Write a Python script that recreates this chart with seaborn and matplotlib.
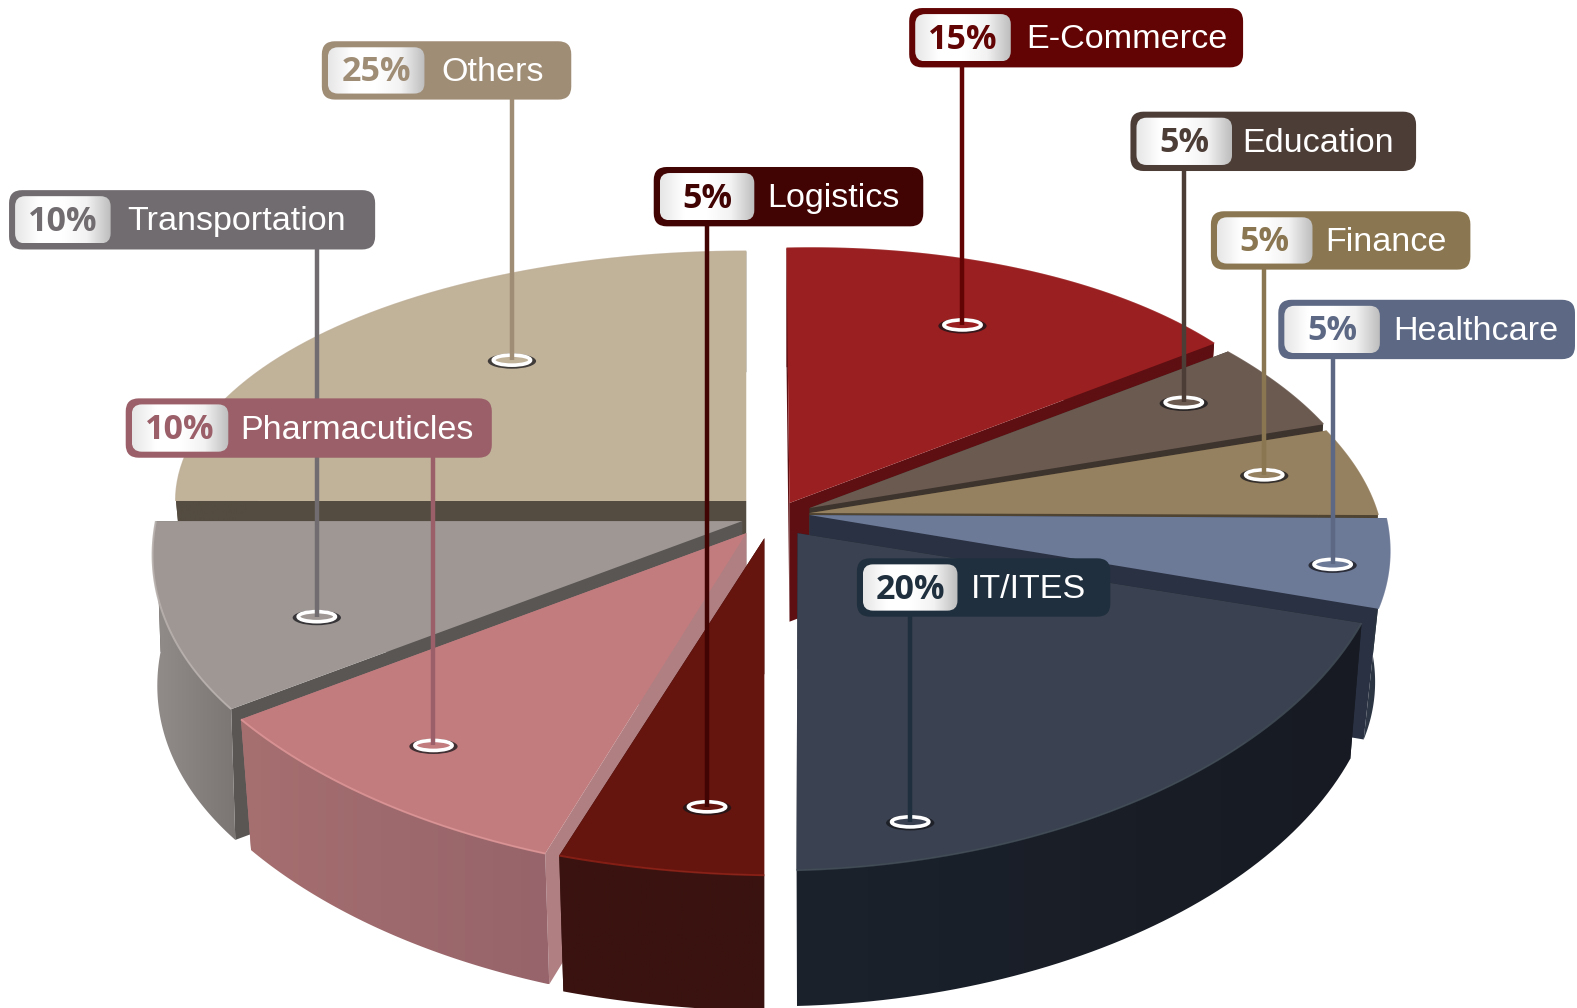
import numpy as np
import matplotlib
matplotlib.use("Agg")
import matplotlib.pyplot as plt
import seaborn as sns
from matplotlib.colors import LinearSegmentedColormap
from matplotlib.patches import Ellipse, FancyBboxPatch
from matplotlib.transforms import Affine2D

# Data
categories = ["E-Commerce", "Education", "Finance", "Healthcare", "IT/ITES",
              "Logistics", "Pharmacuticles", "Transportation", "Others"]
shares = [15, 5, 5, 5, 20, 5, 10, 10, 25]

# Colours
top_colors = ["#9a1f20", "#6b5a50", "#95805f", "#6c7997", "#3a4150",
              "#65140e", "#c27c7e", "#9e9794", "#c1b29a"]
cut_colors = ["#5e0f12", "#3e342e", "#4f4432", "#2a3142", "#1a2029",
              "#3a1310", "#b07f82", "#5a5654", "#544c40"]
rim_left = ["#5e0f12", "#3e342e", "#4f4432", "#2f3947", "#1b222c",
            "#3a1310", "#a66f70", "#928d8b", "#544c40"]
rim_right = ["#5e0f12", "#3e342e", "#4f4432", "#262d3a", "#171a22",
             "#3a1310", "#96646a", "#7b7674", "#544c40"]
glow_colors = ["#9a1f20", "#6b5a50", "#95805f", "#6c7997", "#3f4a55",
               "#8a2016", "#dc9495", "#b8b1ae", "#c1b29a"]
tag_colors = ["#620404", "#4d3d37", "#8a7650", "#5c6884", "#1f2f3d",
              "#420303", "#9a5f68", "#716c6f", "#a08d76"]

# Apex x, apex y, x radius, y radius, x skew, y skew, depth, wall taper, in reference pixels
slab_shape = [(785, 500, 524, 253, 3, -12, 118, 0.98),
              (805, 505, 556, 260, 59, -3, 118, 0.98),
              (805, 510, 565, 271, 79, 2, 118, 0.98),
              (805, 512, 573, 292, 65, 3, 130, 0.975),
              (793, 530, 590, 335, -1, -15, 135, 0.98),
              (760, 535, 660, 335, 0, 10, 135, 0.98),
              (742, 530, 613, 341, -11, 19, 130, 0.98),
              (738, 518, 583, 318, -62, 0, 130, 0.992),
              (742, 498, 567, 248, 0, 0, 120, 0.98)]
draw_order = [8, 0, 1, 2, 3, 7, 4, 6, 5]

# Tag box x0, x1, y0, y1, pill x1, text x, leader x, leader end y
tag_shape = [(904, 1236, 8, 67, 1005, 1020, 957, 323),
             (1124, 1408, 111, 170, 1225, 1235, 1177, 400),
             (1204, 1462, 210, 268, 1305, 1318, 1257, 472),
             (1271, 1566, 298, 357, 1372, 1385, 1325, 561),
             (852, 1104, 555, 613, 952, 965, 905, 817),
             (650, 918, 166, 225, 750, 763, 703, 802),
             (125, 489, 396, 455, 227, 239, 431, 741),
             (9, 373, 189, 248, 110, 127, 315, 613),
             (320, 568, 41, 99, 422, 439, 509, 358)]

sns.set_style("white")
plt.rcParams["font.family"] = ["Liberation Sans", "DejaVu Sans"]

fig = plt.figure(figsize=(15.77, 10.08), dpi=100)
ax = fig.add_axes([0, 0, 1, 1])

palette = sns.color_palette(top_colors)
wedges, _ = ax.pie(shares, colors=palette, startangle=90, counterclock=False,
                   wedgeprops={"linewidth": 0})


def gradient(x0, x1, y0, y1, colors, zorder):
    cmap = LinearSegmentedColormap.from_list("g", colors)
    return ax.imshow(np.linspace(0, 1, 256)[None, :], extent=(x0, x1, y1, y0),
                     cmap=cmap, aspect="auto", zorder=zorder)


# Slabs, back to front
for rank, i in enumerate(draw_order):
    base = 10 + rank * 10
    cx, cy, rx, ry, kx, ky, depth, taper = slab_shape[i]
    w = wedges[i]
    skew = np.array([[rx, -kx, cx], [ky, -ry, cy], [0, 0, 1]], dtype=float)
    w.set_transform(Affine2D(skew) + ax.transData)
    w.set_zorder(base + 2)
    w.set_clip_on(False)

    t = np.radians(np.linspace(w.theta1, w.theta2, 60))
    xs = cx + rx * np.cos(t) - kx * np.sin(t)
    ys = cy - ry * np.sin(t) + ky * np.cos(t)
    xb = cx + (xs - cx) * taper
    yb = ys + depth

    # cut faces
    for j in (0, -1):
        ax.fill([cx, xs[j], xb[j], cx], [cy, ys[j], yb[j], cy + depth],
                color=cut_colors[i], lw=0, zorder=base)

    # outer wall
    wall = ax.fill(np.r_[xs, xb[::-1]], np.r_[ys, yb[::-1]], color="none", lw=0,
                   zorder=base + 1)[0]
    img = gradient(min(xs.min(), xb.min()), max(xs.max(), xb.max()),
                   ys.min(), yb.max(), [rim_left[i], rim_right[i]], base + 1)
    img.set_clip_path(wall)

    # soft highlight along the top rim
    ax.plot(xs, ys, color=glow_colors[i], lw=1.4, alpha=0.9, zorder=base + 3,
            solid_capstyle="butt")

# Leaders and rings
for i, (x0, x1, y0, y1, px, tx, lx, ly) in enumerate(tag_shape):
    ax.vlines(lx, y1 - 2, ly, color=tag_colors[i], lw=3.2, zorder=203)
    ax.add_patch(Ellipse((lx, ly + 1), 48, 15, color="#15151a", alpha=0.75, lw=0, zorder=201))
    ax.add_patch(Ellipse((lx, ly), 37, 10, fc=top_colors[i], ec="white", lw=2.6, zorder=202))

# Tags
for rank, i in enumerate([8, 7, 6, 5, 0, 1, 2, 3, 4]):
    x0, x1, y0, y1, px, tx, lx, ly = tag_shape[i]
    z = 210 + rank * 3
    ax.add_patch(FancyBboxPatch((x0, y0), x1 - x0, y1 - y0,
                                boxstyle="round,pad=0,rounding_size=13",
                                fc=tag_colors[i], ec="none", zorder=z))
    pill = FancyBboxPatch((x0 + 6, y0 + 6), px - x0 - 6, y1 - y0 - 12,
                          boxstyle="round,pad=0,rounding_size=10",
                          fc="none", ec="none", zorder=z + 1)
    ax.add_patch(pill)
    img = gradient(x0 + 6, px, y0 + 6, y1 - 6,
                   ["#e6e6e6", "#ffffff", "#ffffff", "#f2f2f2", "#bdbdbd"], z + 1)
    img.set_clip_path(pill)
    ax.text((x0 + 6 + px) / 2, (y0 + y1) / 2 + 2, f"{shares[i]}%", ha="center", va="center",
            fontsize=24.5, fontweight="bold", family=["Open Sans", "DejaVu Sans"],
            color=tag_colors[i], zorder=z + 2)
    ax.text(tx, (y0 + y1) / 2 + 2, categories[i], ha="left", va="center",
            fontsize=24.6, color="white", zorder=z + 2)

ax.set_aspect("auto")
ax.set_xlim(0, 1568)
ax.set_ylim(1002, 0)
ax.axis("off")

plt.savefig("out.png", dpi=100)
